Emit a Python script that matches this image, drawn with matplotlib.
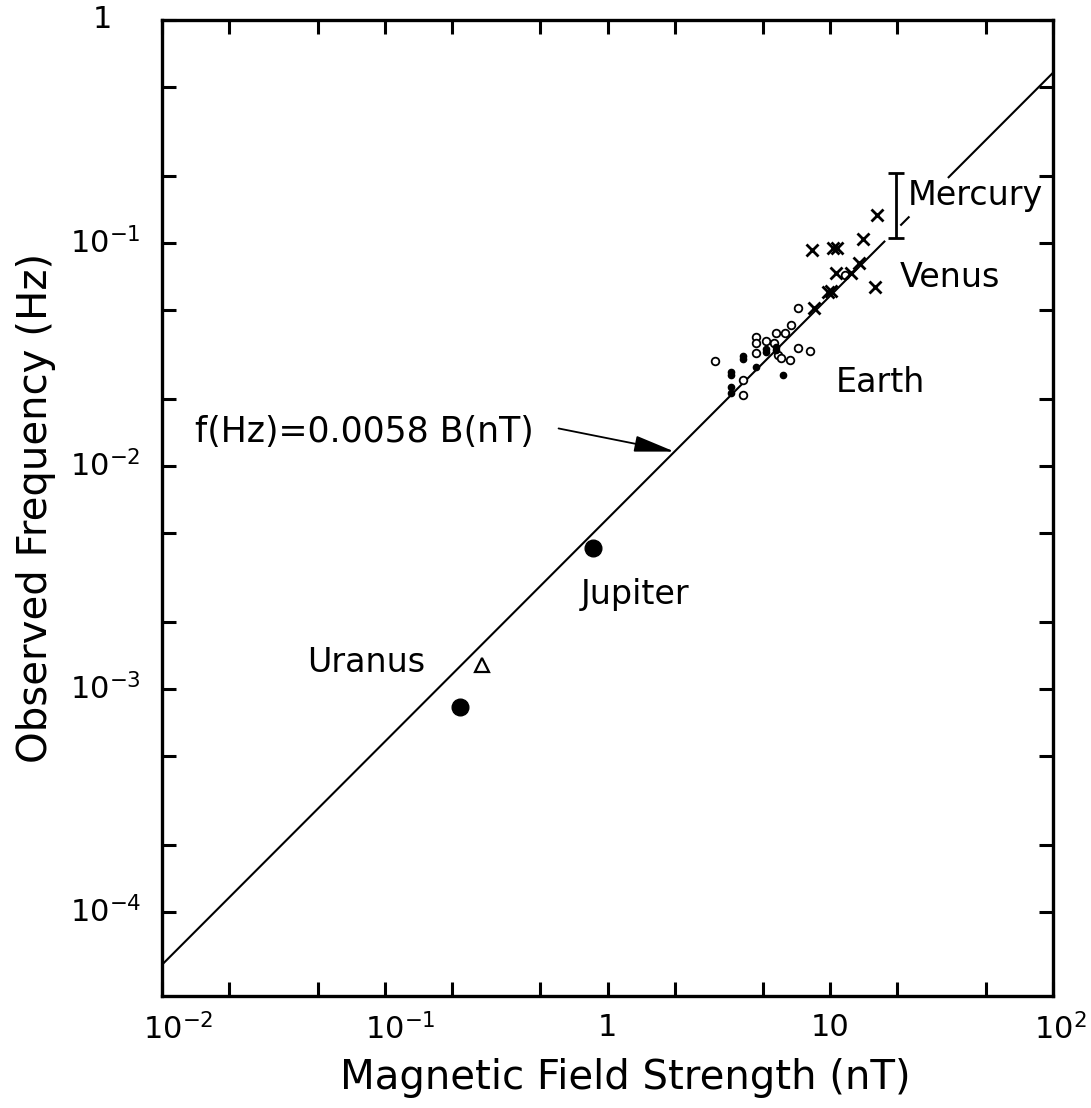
import numpy as np
import matplotlib
matplotlib.use('Agg')
from matplotlib import pyplot as plt
from matplotlib.ticker import FixedLocator, NullFormatter

# fit: f(Hz) = 0.0058 B(nT)
fit_coef = 0.0058

# Venus (crosses)
venus_B = [16.2, 14.0, 8.26, 10.3, 10.7, 13.4, 10.6, 12.4, 15.8, 9.8, 10.1, 8.43]
venus_f = [0.134, 0.104, 0.093, 0.095, 0.095, 0.081, 0.073, 0.073, 0.0635, 0.060, 0.061, 0.051]

# Earth (small open circles)
earth_B = [7.14, 6.64, 5.69, 6.25, 4.62, 4.62, 5.13, 5.6, 4.62, 5.81, 6.0, 6.58,
           7.14, 8.09, 3.03, 4.04, 4.04, 11.6]
earth_f = [0.051, 0.043, 0.0395, 0.0395, 0.038, 0.0356, 0.0364, 0.0356, 0.032, 0.0315, 0.0305, 0.030,
           0.0338, 0.0328, 0.0296, 0.0243, 0.0208, 0.072]

# Earth (filled, smeared points)
earth_fill_B = [5.13, 5.13, 5.69, 5.69, 4.04, 4.04, 3.57, 3.57, 3.57, 3.57, 4.62, 6.12]
earth_fill_f = [0.0325, 0.0335, 0.0331, 0.0342, 0.0302, 0.0312, 0.0256, 0.0264, 0.0213, 0.0225, 0.0278, 0.0256]

# Mercury range
mercury_B = 19.7
mercury_f_lo = 0.105
mercury_f_hi = 0.207

# Jupiter / Uranus
jupiter_B, jupiter_f = 0.857, 0.00429
uranus_B, uranus_f = 0.218, 8.3e-4
uranus_tri_B, uranus_tri_f = 0.272, 1.28e-3

x_decades = [1e-2, 1e-1, 1, 10, 1e2]
x_ticklabels = [r'$\mathdefault{10^{-2}}$', r'$\mathdefault{10^{-1}}$', '1', '10', r'$\mathdefault{10^{2}}$']
y_decades = [1e-4, 1e-3, 1e-2, 1e-1, 1]
y_ticklabels = [r'$\mathdefault{10^{-4}}$', r'$\mathdefault{10^{-3}}$', r'$\mathdefault{10^{-2}}$',
                r'$\mathdefault{10^{-1}}$', '1']

plt.rcParams['font.family'] = ['DejaVu Sans']
plt.rcParams['mathtext.fontset'] = 'dejavusans'

fig = plt.figure(figsize=(10.91, 11.08), dpi=100)
ax = fig.add_axes([162 / 1091, 1 - 996 / 1108, (1053 - 162) / 1091, (996 - 20) / 1108])
ax.set_xscale('log')
ax.set_yscale('log')
ax.set_xlim(1e-2, 1e2)
ax.set_ylim(4.2e-5, 1)

# fit line, broken where it runs through the Mercury label
for b0, b1 in [(1e-2, 17.5), (20.8, 22.5), (34.0, 1e2)]:
    bb = np.array([b0, b1])
    ax.plot(bb, fit_coef * bb, color='black', lw=1.5)

ax.plot(earth_B, earth_f, 'o', ms=5.5, mfc='white', mec='black', mew=1.3)
ax.plot(earth_fill_B, earth_fill_f, 'o', ms=4.5, color='black')
ax.plot(venus_B, venus_f, 'x', ms=8, color='black', mew=2)

mid = np.sqrt(mercury_f_lo * mercury_f_hi)
ax.errorbar([mercury_B], [mid], yerr=[[mid - mercury_f_lo], [mercury_f_hi - mid]],
            fmt='none', ecolor='black', elinewidth=2, capsize=6, capthick=2)

ax.plot([jupiter_B, uranus_B], [jupiter_f, uranus_f], 'o', ms=12, color='black')
ax.plot([uranus_tri_B], [uranus_tri_f], '^', ms=9.5, mfc='white', mec='black', mew=1.6)

fs = 24
ax.text(22.3, 0.164, 'Mercury', fontsize=fs, ha='left', va='center')
ax.text(20.5, 0.0697, 'Venus', fontsize=fs, ha='left', va='center')
ax.text(10.6, 0.0238, 'Earth', fontsize=fs, ha='left', va='center')
ax.text(0.757, 0.00264, 'Jupiter', fontsize=fs, ha='left', va='center')
ax.text(0.0449, 0.00131, 'Uranus', fontsize=fs, ha='left', va='center')
ax.annotate('f(Hz)=0.0058 B(nT)', xy=(2.0, 0.0116), xytext=(0.0141, 0.0142),
            fontsize=25, ha='left', va='center',
            arrowprops=dict(arrowstyle='-|>,head_length=1.0,head_width=0.2', color='black',
                            lw=1.3, mutation_scale=25, shrinkA=16, shrinkB=0,
                            relpos=(1.0, 0.75)))

# ticks: 1, 2, 5 per decade, all the same size, inward on all sides
ax.xaxis.set_major_locator(FixedLocator(x_decades))
ax.xaxis.set_minor_locator(FixedLocator([m * d for d in x_decades[:-1] for m in (2, 5)]))
ax.yaxis.set_major_locator(FixedLocator(y_decades))
ax.yaxis.set_minor_locator(FixedLocator([m * d for d in y_decades[:-1] for m in (2, 5)]))
for axis in (ax.xaxis, ax.yaxis):
    axis.set_major_formatter(NullFormatter())
    axis.set_minor_formatter(NullFormatter())
ax.tick_params(which='both', direction='in', length=10, width=2.2, top=True, right=True)

# decade labels: the "10" sits centred on the tick, exponent hangs to the right
half10 = 14  # points, half width of "10" at 22pt
for d, lab in zip(x_decades, x_ticklabels):
    if lab.startswith('$'):
        ax.annotate(lab, xy=(d, 0), xycoords=('data', 'axes fraction'), xytext=(-half10, -12),
                    textcoords='offset points', ha='left', va='top', fontsize=22)
    else:
        ax.annotate(lab, xy=(d, 0), xycoords=('data', 'axes fraction'), xytext=(0, -12),
                    textcoords='offset points', ha='center', va='top', fontsize=22)
for d, lab in zip(y_decades, y_ticklabels):
    if lab.startswith('$'):
        ax.annotate(lab, xy=(0, d), xycoords=('axes fraction', 'data'), xytext=(-52 - half10, 0),
                    textcoords='offset points', ha='left', va='center', fontsize=22)
    else:
        ax.annotate(lab, xy=(0, d), xycoords=('axes fraction', 'data'), xytext=(-43, 0),
                    textcoords='offset points', ha='center', va='center', fontsize=22)

for sp in ax.spines.values():
    sp.set_linewidth(2.4)

ax.set_xlabel('Magnetic Field Strength (nT)', fontsize=29)
ax.set_ylabel('Observed Frequency (Hz)', fontsize=29)
ax.xaxis.set_label_coords(0.52, -0.064)
ax.yaxis.set_label_coords(-0.119, 0.5)

plt.savefig('out.png', dpi=100)
